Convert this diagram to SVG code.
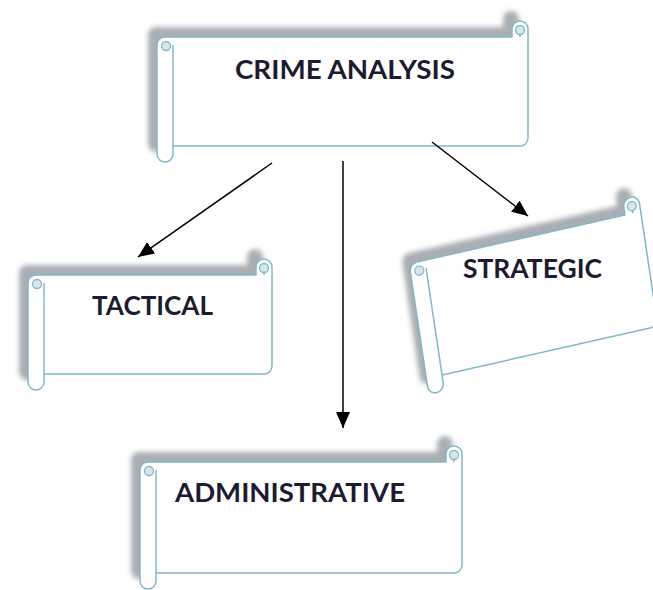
<svg xmlns="http://www.w3.org/2000/svg" width="653" height="590" viewBox="0 0 653 590">
<style>
.shadow{fill:#a9aeb4;filter:url(#blur)}
.body{fill:#ffffff;stroke:#80b9c6;stroke-width:1.5;stroke-linejoin:round}
.det{fill:none;stroke:#80b9c6;stroke-width:1.5}
.curl{fill:#d8e5ea;stroke:#80b9c6;stroke-width:1.3}
.lbl{font-family:Lato,"Open Sans","Liberation Sans",sans-serif;font-weight:bold;font-size:26px;fill:#1d1b30}
.conn{stroke:#000;stroke-width:1.5;fill:none;marker-end:url(#ah)}
</style>
<defs>
<filter id="blur" x="-10%" y="-10%" width="120%" height="120%"><feGaussianBlur stdDeviation="2.4"/></filter>
<marker id="ah" markerUnits="userSpaceOnUse" markerWidth="17" markerHeight="15" refX="16" refY="7" orient="auto"><path d="M0,0 L16,7 L0,14 Z" fill="#000"/></marker>
</defs>
<rect width="653" height="590" fill="#fff"/>

<g id="crime-analysis">
<g transform="translate(148,11)"><path class="shadow" d="M0,24 A8,8 0 0 1 8,16 L355,16 L355,8 A8,8 0 0 1 371,8 L371,117 A8,8 0 0 1 363,125 L16,125 L16,133 A8,8 0 0 1 0,133 Z"/></g>
<g transform="translate(157,21)">
<path class="body" d="M0,24 A8,8 0 0 1 8,16 L355,16 L355,8 A8,8 0 0 1 371,8 L371,117 A8,8 0 0 1 363,125 L16,125 L16,133 A8,8 0 0 1 0,133 Z"/>
<path class="det" d="M16,24 L16,125"/>
<circle class="curl" cx="9" cy="25" r="4.5"/>
<circle class="curl" cx="363" cy="9" r="4.5"/>
<path class="det" d="M363,13.5 L363,16"/>
</g>
<text class="lbl" x="235" y="79" textLength="220" lengthAdjust="spacingAndGlyphs">CRIME ANALYSIS</text>
</g>

<g id="tactical">
<g transform="translate(19,249)"><path class="shadow" d="M0,24 A8,8 0 0 1 8,16 L228,16 L228,8 A8,8 0 0 1 244,8 L244,107 A8,8 0 0 1 236,115 L16,115 L16,123 A8,8 0 0 1 0,123 Z"/></g>
<g transform="translate(28,259)">
<path class="body" d="M0,24 A8,8 0 0 1 8,16 L228,16 L228,8 A8,8 0 0 1 244,8 L244,107 A8,8 0 0 1 236,115 L16,115 L16,123 A8,8 0 0 1 0,123 Z"/>
<path class="det" d="M16,24 L16,115"/>
<circle class="curl" cx="9" cy="25" r="4.5"/>
<circle class="curl" cx="236" cy="9" r="4.5"/>
<path class="det" d="M236,13.5 L236,16"/>
</g>
<text class="lbl" x="92" y="315" textLength="121" lengthAdjust="spacingAndGlyphs">TACTICAL</text>
</g>

<g id="strategic">
<g transform="translate(-8,-9)"><g transform="matrix(0.981,-0.222,0.148,0.990,406.8,247.9)"><path class="shadow" d="M0,24 A8,8 0 0 1 8,16 L220,16 L220,8 A8,8 0 0 1 236,8 L236,124 A8,8 0 0 1 228,132 L16,132 L16,140 A8,8 0 0 1 0,140 Z"/></g></g>
<g transform="matrix(0.981,-0.222,0.148,0.990,406.8,247.9)">
<path class="body" d="M0,24 A8,8 0 0 1 8,16 L220,16 L220,8 A8,8 0 0 1 236,8 L236,124 A8,8 0 0 1 228,132 L16,132 L16,140 A8,8 0 0 1 0,140 Z"/>
<path class="det" d="M16,24 L16,132"/>
<circle class="curl" cx="9" cy="25" r="4.5"/>
<circle class="curl" cx="228" cy="9" r="4.5"/>
<path class="det" d="M228,13.5 L228,16"/>
</g>
<text class="lbl" x="463" y="278" textLength="139" lengthAdjust="spacingAndGlyphs">STRATEGIC</text>
</g>

<g id="administrative">
<g transform="translate(131,436)"><path class="shadow" d="M0,24 A8,8 0 0 1 8,16 L306,16 L306,8 A8,8 0 0 1 322,8 L322,119 A8,8 0 0 1 314,127 L16,127 L16,135 A8,8 0 0 1 0,135 Z"/></g>
<g transform="translate(140,446)">
<path class="body" d="M0,24 A8,8 0 0 1 8,16 L306,16 L306,8 A8,8 0 0 1 322,8 L322,119 A8,8 0 0 1 314,127 L16,127 L16,135 A8,8 0 0 1 0,135 Z"/>
<path class="det" d="M16,24 L16,127"/>
<circle class="curl" cx="9" cy="25" r="4.5"/>
<circle class="curl" cx="314" cy="9" r="4.5"/>
<path class="det" d="M314,13.5 L314,16"/>
</g>
<text class="lbl" x="175" y="502" textLength="230" lengthAdjust="spacingAndGlyphs">ADMINISTRATIVE</text>
</g>

<g id="connectors">
<line class="conn" x1="272" y1="163" x2="138" y2="257"/>
<line class="conn" x1="343" y1="161" x2="343" y2="428"/>
<line class="conn" x1="432" y1="142" x2="528" y2="216"/>
</g>
</svg>
